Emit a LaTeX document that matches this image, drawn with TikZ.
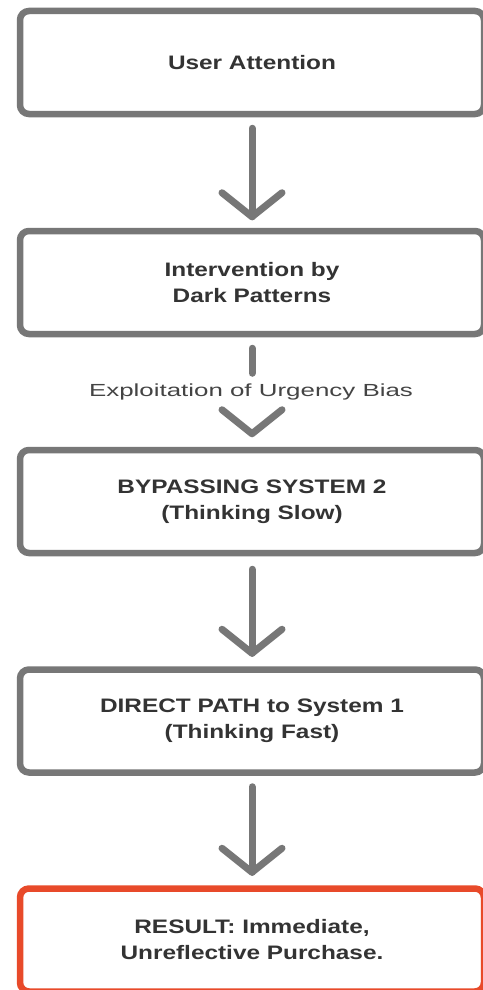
\documentclass[tikz,border=0pt]{standalone}
\usepackage{fontspec}
\setmainfont{Liberation Sans}
\newfontfamily\boxfont{Liberation Sans}[FakeStretch=1.25]
\newfontfamily\labfont{Liberation Sans}[FakeStretch=1.48]
\usetikzlibrary{calc}
\definecolor{edgegray}{HTML}{777777}
\definecolor{txtdark}{HTML}{333333}
\definecolor{labgray}{HTML}{444444}
\definecolor{resred}{HTML}{E84A2A}
\tikzset{
  stepbox/.style={draw=edgegray, line width=6.5pt, rounded corners=9pt, fill=white,
    minimum width=464pt, minimum height=103pt, inner sep=0pt, align=center,
    text=txtdark, font=\boxfont\bfseries\fontsize{19.5}{26}\selectfont},
  resbox/.style={stepbox, draw=resred},
  conn/.style={draw=edgegray, line width=7pt, line cap=round, line join=round},
}
\newcommand{\chevat}[1]{\draw[conn] ($(#1)+(-30,-24)$) -- (#1) -- ($(#1)+(30,-24)$);}
\begin{document}
\begin{tikzpicture}[x=1pt,y=-1pt]
\useasboundingbox (0,0) rectangle (482,990);
\fill[white] (0,0) rectangle (482,990);
\node[stepbox] (b1) at (252,62.5) {User Attention};
\node[stepbox] (b2) at (252,282.5) {Intervention by\\Dark Patterns};
\node[stepbox] (b3) at (252,501.5) {BYPASSING SYSTEM 2\\(Thinking Slow)};
\node[stepbox] (b4) at (252,721) {DIRECT PATH to System 1\\(Thinking Fast)};
\node[resbox] (b5) at (252,940) {RESULT: Immediate,\\Unreflective Purchase.};
\node[text=labgray, font=\labfont\fontsize{17.5}{20}\selectfont] (lab) at (251,392) {Exploitation of Urgency Bias};
% arrow 1
\coordinate (t1) at ($(b2.north)+(0,-11)$);
\draw[conn] ($(b1.south)+(0,11)$) -- (t1);
\chevat{t1}
% arrow 2 (interrupted by label)
\coordinate (s2) at ($(b2.south)+(0,36)$);
\draw[conn] ($(b2.south)+(0,11)$) -- (s2);
\coordinate (t2) at ($(b3.north)+(0,-13)$);
\chevat{t2}
% arrow 3
\coordinate (t3) at ($(b4.north)+(0,-13)$);
\draw[conn] ($(b3.south)+(0,13)$) -- (t3);
\chevat{t3}
% arrow 4
\coordinate (t4) at ($(b5.north)+(0,-13)$);
\draw[conn] ($(b4.south)+(0,11)$) -- (t4);
\chevat{t4}
\end{tikzpicture}
\end{document}
